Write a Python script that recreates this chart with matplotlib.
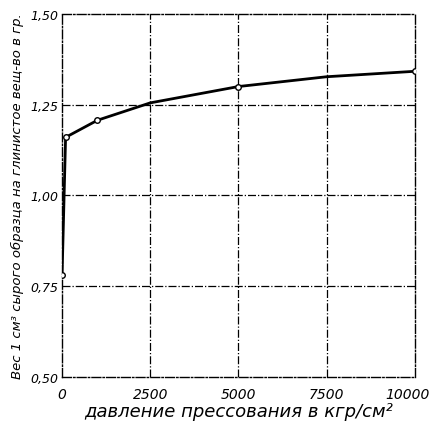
import matplotlib
matplotlib.use("Agg")
import matplotlib.pyplot as plt
from matplotlib.transforms import ScaledTranslation

plt.rcParams['font.family'] = ['DejaVu Sans']

# data (pressure kg/cm^2, weight g)
pressure = [0, 100, 1000, 2500, 5000, 7500, 10000]
weight = [0.78, 1.16, 1.207, 1.255, 1.30, 1.327, 1.342]
circ_p = [0, 100, 1000, 5000, 10000]
circ_w = [0.78, 1.16, 1.207, 1.30, 1.342]

xticks = [0, 2500, 5000, 7500, 10000]
xtick_labels = ['0', '2500', '5000', '7500', '10000']
yticks = [0.50, 0.75, 1.00, 1.25, 1.50]
ytick_labels = ['0,50', '0,75', '1,00', '1,25', '1,50']

fig = plt.figure(figsize=(4.34, 4.27), dpi=100)
ax = fig.add_axes([0.143, 0.115, 0.813, 0.85])
ax.plot(pressure, weight, color='black', lw=2.0, zorder=3)
ax.plot(circ_p, circ_w, 'o', ms=4, mfc='white', mec='black', mew=1.0, zorder=4)

ax.set_xlim(0, 10000)
ax.set_ylim(0.5, 1.5)
ax.set_xticks(xticks)
ax.set_xticklabels(xtick_labels, fontsize=10, style='italic')
ax.set_yticks(yticks)
ax.set_yticklabels(ytick_labels, fontsize=9, style='italic')
ax.tick_params(axis='y', length=0, pad=3)
ax.tick_params(axis='x', length=0, pad=7)
last = ax.get_xticklabels()[-1]
last.set_transform(last.get_transform() + ScaledTranslation(-7/100, 0, fig.dpi_scale_trans))

for v in [2500, 5000, 7500]:
    ax.axvline(v, color='black', lw=0.9, ls='-.', zorder=1)
for v in [0.75, 1.00, 1.25]:
    ax.axhline(v, color='black', lw=0.9, ls='-.', zorder=1)
for s in ax.spines.values():
    s.set_linestyle('-.')
    s.set_linewidth(1.0)

ax.set_xlabel('давление прессования в кгр/см²', fontsize=13, style='italic', labelpad=1)
ax.set_ylabel('Вес 1 см³ сырого образца на глинистое вещ-во в гр.', fontsize=9.5,
              style='italic', labelpad=4)

fig.savefig('out.png', dpi=100)
